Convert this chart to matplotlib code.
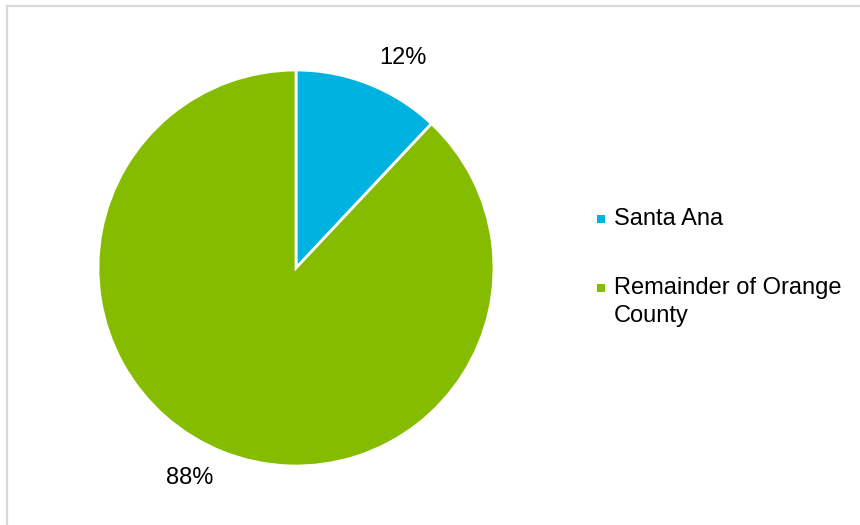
import matplotlib
matplotlib.use("Agg")
import matplotlib.pyplot as plt
from matplotlib.lines import Line2D
from matplotlib.patches import Rectangle

categories = ["Santa Ana", "Remainder of Orange\nCounty"]
shares = [12, 88]
colors = ["#00B2E0", "#86BC00"]

plt.rcParams["font.family"] = ["Liberation Sans", "DejaVu Sans"]

W, H = 860, 525
fig = plt.figure(figsize=(W / 100, H / 100), dpi=100)

# pie area in pixels: centre (296, 268), radius ~198
cx, cy, r = 296, 268, 198
ax = fig.add_axes([(cx - r) / W, (H - cy - r) / H, 2 * r / W, 2 * r / H])
wedges, _, autotexts = ax.pie(
    shares, colors=colors, startangle=90, counterclock=False,
    autopct="%d%%", pctdistance=1.14,
    wedgeprops=dict(edgecolor="white", linewidth=2),
    textprops=dict(fontsize=17, color="black"),
)
for t in autotexts:
    x, _ = t.get_position()
    t.set_ha("left" if x > 0 else "right")
ax.set_xlim(-1, 1)
ax.set_ylim(-1, 1)
ax.set_aspect("equal")

# legend entries on the right
legend_y = [219, 302]
for label, col, ly in zip(categories, colors, legend_y):
    first_line_y = ly if "\n" not in label else ly - 14
    fig.add_artist(Rectangle((597 / W, (H - first_line_y - 4) / H), 8 / W, 8 / H,
                             transform=fig.transFigure, color=col, lw=0))
    fig.text(614 / W, (H - ly) / H, label, fontsize=17, color="black",
             va="center", ha="left", linespacing=1.3)

# light grey frame along the top and left edges
fig.add_artist(Line2D([6.5 / W, 1], [1 - 6 / H, 1 - 6 / H], transform=fig.transFigure,
                      color="#D9D9D9", lw=1.6))
fig.add_artist(Line2D([6.5 / W, 6.5 / W], [0, 1 - 6 / H], transform=fig.transFigure,
                      color="#D9D9D9", lw=1.6))

fig.savefig("out.png", dpi=100)
